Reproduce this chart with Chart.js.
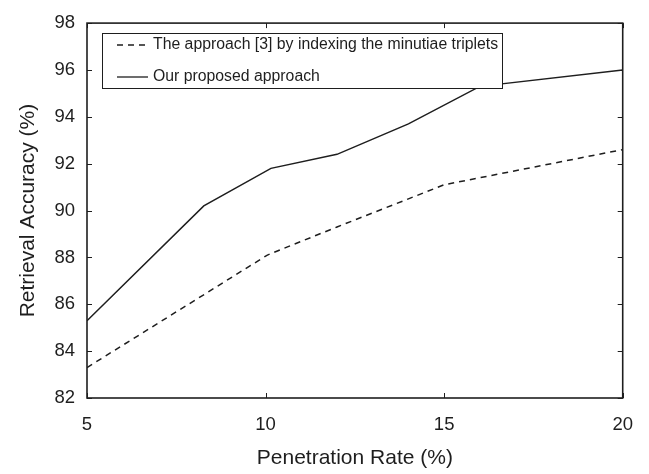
<!DOCTYPE html>
<html>
<head>
<meta charset="utf-8">
<script src="https://cdn.jsdelivr.net/npm/chart.js@4"></script>
<style>
  html, body { margin: 0; padding: 0; background: #fff; }
  #wrap { width: 649px; height: 474px; }
</style>
</head>
<body>
<div id="wrap"><canvas id="RetrievalChart" width="649" height="474"></canvas></div>
<script>
// penetration rate (%) and retrieval accuracy (%) for each method
var rate_triplets = [5, 10.05, 12, 14, 15, 20];
var acc_triplets = [83.3, 88.1, 89.3, 90.5, 91.1, 92.6];
var rate_ours = [5, 8.27, 10.15, 12, 14, 16, 20];
var acc_ours = [85.3, 90.2, 91.8, 92.4, 93.7, 95.3, 96.0];
var x_ticks = [5, 10, 15, 20];
var y_ticks = [82, 84, 86, 88, 90, 92, 94, 96, 98];
var label_triplets = 'The approach [3] by indexing the minutiae triplets';
var label_ours = 'Our proposed approach';

var FONT = '"Liberation Sans", Arial, Helvetica, sans-serif';
var INK = '#1e1e1e';

function to_points(xs, ys){
  var pts = [];
  xs.forEach((x, i) => { pts.push({x: x, y: ys[i]}); });
  return pts;
}

// frame, inward ticks on all four sides and the boxed legend
var framePlugin = {
  id: 'frame',
  afterDatasetsDraw(chart){
    var c = chart.ctx, a = chart.chartArea;
    var xs = chart.scales.x, ys = chart.scales.y;
    c.save();
    c.strokeStyle = INK;
    c.lineWidth = 1;
    x_ticks.forEach(v => {
      var px = Math.round(xs.getPixelForValue(v)) + 0.5;
      c.beginPath();
      c.moveTo(px, a.bottom); c.lineTo(px, a.bottom - 5);
      c.moveTo(px, a.top); c.lineTo(px, a.top + 5);
      c.stroke();
    });
    y_ticks.forEach(v => {
      var py = Math.round(ys.getPixelForValue(v)) + 0.5;
      c.beginPath();
      c.moveTo(a.left, py); c.lineTo(a.left + 5, py);
      c.moveTo(a.right, py); c.lineTo(a.right - 5, py);
      c.stroke();
    });
    c.lineWidth = 1.6;
    c.strokeRect(a.left, a.top, a.right - a.left, a.bottom - a.top);

    // legend
    var lx = 102, ly = 33, lw = 400, lh = 55;
    c.fillStyle = '#fff';
    c.fillRect(lx, ly, lw, lh);
    c.lineWidth = 1;
    c.strokeStyle = INK;
    c.strokeRect(lx + 0.5, ly + 0.5, lw, lh);
    c.font = '15.8px ' + FONT;
    c.textBaseline = 'middle';
    c.fillStyle = INK;
    chart.data.datasets.forEach((ds, i) => {
      var yy = ly + 12 + i * 32;
      c.beginPath();
      c.lineWidth = 1.3;
      c.setLineDash(ds.borderDash || []);
      c.moveTo(117, yy); c.lineTo(148, yy);
      c.stroke();
      c.setLineDash([]);
      c.fillText(ds.label, 153, yy);
    });
    c.restore();
  }
};

var ctx = document.getElementById('RetrievalChart');
var myLineChart = new Chart(ctx, {
  type: 'line',
  data: {
    datasets: [
      {
        label: label_triplets,
        data: to_points(rate_triplets, acc_triplets),
        borderColor: INK,
        borderWidth: 1.5,
        borderDash: [6, 5],
        pointRadius: 0,
        fill: false,
        tension: 0
      },
      {
        label: label_ours,
        data: to_points(rate_ours, acc_ours),
        borderColor: INK,
        borderWidth: 1.5,
        pointRadius: 0,
        fill: false,
        tension: 0
      }
    ]
  },
  options: {
    responsive: false,
    animation: false,
    devicePixelRatio: 1,
    layout: {padding: {left: 0, right: 26, top: 17, bottom: 0}},
    plugins: {legend: {display: false}, tooltip: {enabled: false}},
    scales: {
      x: {
        type: 'linear',
        min: 5, max: 20,
        afterBuildTicks: s => { s.ticks = x_ticks.map(v => ({value: v})); },
        afterFit: s => { s.height = 76; },
        grid: {display: false, drawTicks: false},
        border: {display: false},
        ticks: {color: INK, font: {family: FONT, size: 18.5}, padding: 16, maxRotation: 0},
        title: {display: true, text: 'Penetration Rate (%)', color: INK,
                font: {family: FONT, size: 21}, padding: {top: 0, bottom: 3}}
      },
      y: {
        type: 'linear',
        min: 82, max: 98,
        afterBuildTicks: s => { s.ticks = y_ticks.map(v => ({value: v})); },
        afterFit: s => { s.width = 87; },
        grid: {display: false, drawTicks: false},
        border: {display: false},
        ticks: {color: INK, font: {family: FONT, size: 18.5}, padding: 12},
        title: {display: true, text: 'Retrieval Accuracy (%)', color: INK,
                font: {family: FONT, size: 21}, padding: {top: 16, bottom: 0}}
      }
    }
  },
  plugins: [framePlugin]
});
</script>
</body>
</html>
